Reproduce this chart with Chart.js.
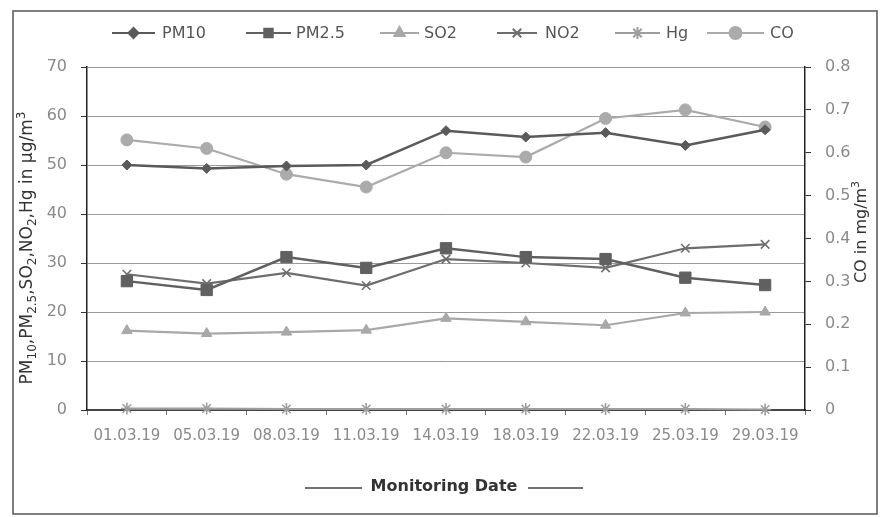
<!DOCTYPE html>
<html>
<head>
<meta charset="utf-8">
<script src="https://cdn.jsdelivr.net/npm/chart.js@4.4.0/dist/chart.umd.min.js"></script>
<style>
  html, body { margin: 0; padding: 0; background: #fff; }
  #wrap { position: relative; width: 880px; height: 517px; }
</style>
</head>
<body>
<div id="wrap"><canvas id="chart"></canvas></div>
<script>
// --- data ---
const dates = ['01.03.19', '05.03.19', '08.03.19', '11.03.19', '14.03.19', '18.03.19', '22.03.19', '25.03.19', '29.03.19'];
const pm10  = [50, 49.3, 49.8, 50, 57, 55.7, 56.6, 54, 57.2];
const pm25  = [26.3, 24.5, 31.2, 29, 33, 31.2, 30.8, 27, 25.5];
const so2   = [16.2, 15.6, 15.9, 16.3, 18.7, 18, 17.3, 19.8, 20];
const no2   = [27.7, 25.8, 28, 25.4, 30.8, 30, 29, 33, 33.8];
const hg    = [0.3, 0.3, 0.2, 0.2, 0.2, 0.2, 0.2, 0.2, 0.1];
const co    = [0.63, 0.61, 0.55, 0.52, 0.6, 0.59, 0.68, 0.7, 0.66];
const leftTicks  = [0, 10, 20, 30, 40, 50, 60, 70];
const rightTicks = [0, 0.1, 0.2, 0.3, 0.4, 0.5, 0.6, 0.7, 0.8];

const FONT = "'DejaVu Sans', sans-serif";
const AREA = { left: 87, right: 805, top: 67, bottom: 410 };

function series(label, data, color, style, r, axis, w) {
    return {
        label, data, yAxisID: axis || 'y',
        borderColor: color, backgroundColor: color,
        borderWidth: w || 2.2, pointStyle: style, pointRadius: r, pointHoverRadius: r,
        pointBorderWidth: style === 'crossRot' || style === 'star' ? 1.6 : 1,
        pointBorderColor: color, pointBackgroundColor: color,
        tension: 0, clip: false
    };
}

const datasets = [
    series('PM10',  pm10, '#5a5a5a', 'rectRot', 5, 'y', 2.5),
    series('PM2.5', pm25, '#606060', 'rect', 8, 'y', 2.5),
    series('SO2',   so2,  '#a8a8a8', 'triangle', 6),
    series('NO2',   no2,  '#6e6e6e', 'crossRot', 6),
    series('Hg',    hg,   '#9e9e9e', 'star', 6),
    series('CO',    co,   '#ababab', 'circle', 6, 'y1'),
];

// legend: line + marker, then name
const legendPos = [[112, 155, 162], [246, 291, 296], [380, 419, 424], [497, 537, 545], [615, 660, 666], [707, 764, 770]];

const framePlugin = {
    id: 'frame',
    beforeDraw(chart) {
        const ctx = chart.ctx;
        ctx.save();
        ctx.fillStyle = '#fff';
        ctx.fillRect(0, 0, chart.width, chart.height);
        ctx.strokeStyle = '#555';
        ctx.lineWidth = 1.5;
        ctx.strokeRect(13, 11, 864, 503);
        ctx.restore();
    },
    afterDraw(chart) {
        const ctx = chart.ctx;
        ctx.save();
        // legend
        ctx.font = '16px ' + FONT;
        ctx.textBaseline = 'middle';
        ctx.textAlign = 'left';
        chart.data.datasets.forEach((ds, i) => {
            const [x1, x2, tx] = legendPos[i];
            const y = 33;
            ctx.strokeStyle = ds.borderColor;
            ctx.lineWidth = 2;
            ctx.beginPath(); ctx.moveTo(x1, y); ctx.lineTo(x2, y); ctx.stroke();
            ctx.fillStyle = ds.borderColor;
            Chart.helpers.drawPoint(ctx, {
                pointStyle: ds.pointStyle, rotation: 0,
                radius: Math.min(ds.pointRadius, 6), borderWidth: ds.pointBorderWidth
            }, (x1 + x2) / 2, y);
            ctx.fillStyle = '#555';
            ctx.fillText(ds.label, tx, y + 1);
        });

        // x title with rules
        ctx.fillStyle = '#333';
        ctx.font = 'bold 16px ' + FONT;
        ctx.textAlign = 'center';
        ctx.fillText('Monitoring Date', 444, 487);
        ctx.strokeStyle = '#444';
        ctx.lineWidth = 1.3;
        ctx.beginPath();
        ctx.moveTo(305, 488); ctx.lineTo(362, 488);
        ctx.moveTo(528, 488); ctx.lineTo(583, 488);
        ctx.stroke();

        // y titles (both read bottom-to-top)
        drawRotated(ctx, [['PM', 0], ['10', 1], [',PM', 0], ['2.5', 1], [',SO', 0], ['2', 1], [',NO', 0], ['2', 1], [',Hg in µg/m', 0], ['3', 2]], 28, 248, 17);
        drawRotated(ctx, [['CO in mg/m', 0], ['3', 2]], 862, 232, 16);
        ctx.restore();
    }
};

function drawRotated(ctx, parts, cx, cy, size) {
    const big = size + 'px ' + FONT, small = Math.round(size * 0.68) + 'px ' + FONT;
    let total = 0;
    parts.forEach(([t, k]) => { ctx.font = k ? small : big; total += ctx.measureText(t).width; });
    ctx.save();
    ctx.translate(cx, cy);
    ctx.rotate(-Math.PI / 2);
    ctx.fillStyle = '#333';
    ctx.textAlign = 'left';
    ctx.textBaseline = 'middle';
    let x = -total / 2;
    parts.forEach(([t, k]) => {
        ctx.font = k ? small : big;
        const dy = k === 1 ? 5 : k === 2 ? -6 : 0;
        ctx.fillText(t, x, dy);
        x += ctx.measureText(t).width;
    });
    ctx.restore();
}

new Chart(document.getElementById('chart'), {
    type: 'line',
    data: { labels: dates, datasets },
    plugins: [framePlugin],
    options: {
        responsive: true, maintainAspectRatio: false, animation: false,
        layout: { padding: { top: AREA.top, left: 0, right: 0, bottom: 0 } },
        plugins: { legend: { display: false }, tooltip: { enabled: false } },
        scales: {
            x: {
                type: 'category', offset: true,
                afterFit: s => { s.height = 517 - AREA.bottom; },
                grid: { display: true, drawOnChartArea: false, drawTicks: true, tickLength: 5, color: '#777', offset: true },
                border: { color: '#444', width: 2 },
                ticks: { font: { family: FONT, size: 15 }, color: '#8a8a8a', padding: 12, maxRotation: 0, autoSkip: false }
            },
            y: {
                position: 'left', min: 0, max: 70,
                afterFit: s => { s.width = AREA.left; },
                afterBuildTicks: s => { s.ticks = leftTicks.map(v => ({ value: v })); },
                grid: { color: '#9a9a9a', lineWidth: 1, tickLength: 6, tickColor: '#333' },
                border: { color: '#222', width: 1.5 },
                ticks: { font: { family: FONT, size: 16 }, color: '#8a8a8a', padding: 14 }
            },
            y1: {
                position: 'right', min: 0, max: 0.8,
                afterFit: s => { s.width = 880 - AREA.right; },
                afterBuildTicks: s => { s.ticks = rightTicks.map(v => ({ value: v })); },
                grid: { drawOnChartArea: false, tickLength: 6, tickColor: '#333' },
                border: { color: '#222', width: 1.5 },
                ticks: { font: { family: FONT, size: 16 }, color: '#8a8a8a', padding: 14,
                         callback: v => (Math.round(v * 10) / 10).toString() }
            }
        }
    }
});
</script>
</body>
</html>
